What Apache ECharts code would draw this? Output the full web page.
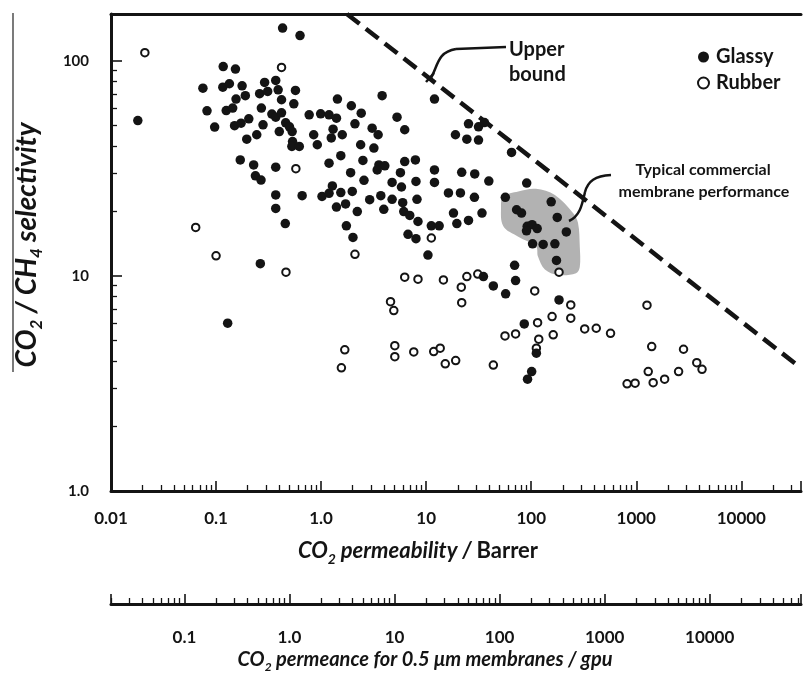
<!DOCTYPE html>
<html>
<head>
<meta charset="utf-8">
<script src="https://cdn.jsdelivr.net/npm/echarts@6/dist/echarts.min.js"></script>
<style>html,body{margin:0;padding:0;background:#fff}#c{width:804px;height:673px}</style>
</head>
<body>
<div id="c"></div>
<script>
// ---- data ----
const glassyX = [0.018,0.43,0.63,0.117,0.153,0.075,0.116,0.134,0.177,0.29,
  0.37,0.26,0.31,0.39,0.57,0.082,0.19,0.155,0.125,0.144,
  0.42,0.55,0.27,0.34,0.37,0.42,0.097,0.15,0.173,0.205,
  0.28,0.46,0.5,0.53,0.4,0.196,0.244,0.535,0.527,0.62,
  0.77,0.99,1.19,1.4,1.43,1.94,2.41,3.81,5.28,6.25,
  0.85,1.3,1.25,2.1,3.06,3.49,0.92,1.59,2.38,3.18,
  0.17,0.228,0.237,0.268,0.37,1.19,1.54,2.5,3.55,4.04,
  6.25,7.9,12,1.91,2.56,3.42,4.74,5.69,5.82,8.0,
  12,12,0.37,0.37,0.66,1.02,1.19,1.28,1.54,1.98,
  1.4,1.71,2.21,2.9,3.7,3.95,4.74,5.98,6.12,6.98,
  8.36,8.18,0.456,1.74,2.01,6.72,8.0,11.2,13.3,10.4,
  0.264,0.129,25.3,31.5,35.9,19.0,24.4,31.5,65,21.8,
  29,39.5,90.6,16.3,21.2,28.8,56.7,155,72.6,80.9,
  177,216,91.6,102,114,90.2,103,130,168,174,
  18.2,25.3,19.6,34,69.5,71,43.6,57.1,35.1,184,
  85.9,112,101,92.3];
const glassyY = [52.7,142,131,94,91.5,74.6,75.4,78.2,76.5,79.3,
  81,70.3,72,73.3,72.8,58.5,68.8,66.4,58.7,60.3,
  65.9,63.1,60.3,56.5,54.7,57.3,49.2,49.9,51.3,53.7,
  50.4,51.5,49.3,46.9,46.9,43.2,45.3,42.1,40,40,
  56.1,56.7,56.1,54.1,66.4,61.8,57.1,68.8,54.7,47.8,
  45.3,48.1,43.8,50.9,48.6,45.3,40.7,45.3,40.7,39.3,
  34.6,32.8,29.2,27.9,32,33.4,36.2,34.4,32.8,32.5,
  34,34.6,66.4,30.2,27.8,31.1,27.2,30.2,25.9,27.5,
  31.1,27.2,23.8,20.6,23.6,23.4,24.2,26.2,24.4,24.7,
  20.9,21.6,19.9,22.6,23.6,20.4,22.7,21.9,19.9,19.1,
  17.9,22.7,17.5,17.1,15.1,15.6,14.9,17.1,17.1,12.5,
  11.4,6.03,50.9,49.3,51.6,45.3,43.2,42.8,37.5,30.3,
  29.8,27.6,27,24.3,24.3,23.2,23.2,22.1,20.3,19.6,
  18.7,16,17,17.3,16.6,16.2,14.1,14,14.1,11.8,
  19.6,18.1,17.5,19.6,11.2,9.51,8.98,8.25,9.93,7.73,
  5.98,4.37,3.59,3.31];
const rubberX = [0.021,0.42,0.575,0.064,0.1,0.463,11.2,2.1,6.25,8.36,
  14.6,24.4,31,21.6,21.8,4.58,4.92,1.68,1.56,5.03,
  5.03,7.62,11.8,13.6,15.2,19.1,43.6,108,238,158,
  238,115,56.3,71,162,118,112,323,416,569,
  1265,1403,2818,3767,4227,1300,2529,1862,1449,818,
  975,184];
const rubberY = [109,93.1,31.5,16.8,12.4,10.4,15,12.6,9.86,9.65,
  9.58,9.93,10.2,8.86,7.51,7.59,6.9,4.53,3.74,4.74,
  4.21,4.43,4.45,4.61,3.9,4.04,3.85,8.51,7.33,6.47,
  6.36,6.06,5.26,5.37,5.32,5.08,4.61,5.67,5.71,5.41,
  7.31,4.69,4.56,3.95,3.68,3.59,3.59,3.31,3.19,3.15,
  3.17,10.4];
const upperBoundX = [1.76, 37000];
const upperBoundY = [165, 3.73];
const commercialX = [54.3,75.3,111,168,250,279,290,290,267,180,135,116,111,75.3,54.3,51.6];
const commercialY = [23.4,24.7,25.4,23.8,19.6,17.6,13.7,11.0,10.3,10.1,10.7,12.3,13.7,15.2,17.0,21.0];

const permeabilityTicks = [0.01, 0.1, 1, 10, 100, 1000, 10000];
const permeabilityLabels = ['0.01', '0.1', '1.0', '10', '100', '1000', '10000'];
const permeanceTicks = [0.1, 1, 10, 100, 1000, 10000];
const permeanceLabels = ['0.1', '1.0', '10', '100', '1000', '10000'];
const selectivityTicks = [1, 10, 100];
const selectivityLabels = ['1.0', '10', '100'];

// ---- helpers ----
function labelFor(ticks, labels) {
  return function (v) {
    for (let i = 0; i < ticks.length; i++) {
      if (Math.abs(Math.log10(v) - Math.log10(ticks[i])) < 1e-6) return labels[i];
    }
    return '';
  };
}
const zip = (xs, ys) => xs.map((x, i) => [x, ys[i]]);
const INK = '#141414';
const FONT = 'Lato, "Open Sans", sans-serif';

const xLabelStyle = { color: INK, fontSize: 17, fontWeight: 'bold', fontFamily: FONT };
const yLabelStyle = { color: INK, fontSize: 15, fontWeight: 'bold', fontFamily: FONT };

const chart = echarts.init(document.getElementById('c'), null, { renderer: 'canvas' });
const commercialData = zip(commercialX, commercialY);

const subRich = (size, lh, sub, slh) => ({
  m: { fontSize: size, fontStyle: 'italic', fontWeight: 'bold', fontFamily: FONT, lineHeight: lh, fill: INK },
  s: { fontSize: sub, fontStyle: 'italic', fontWeight: 'bold', fontFamily: FONT, lineHeight: slh, verticalAlign: 'bottom', fill: INK },
  n: { fontSize: size, fontWeight: 'bold', fontFamily: FONT, lineHeight: lh, fill: INK }
});

chart.setOption({
  animation: false,
  backgroundColor: '#fff',
  grid: [
    { left: 111, right: 0, top: 14, bottom: 182 },
    { left: 111, right: 0, top: 597, height: 7 }
  ],
  legend: {
    data: ['Glassy', 'Rubber'],
    orient: 'vertical',
    left: 692, top: 42,
    itemWidth: 11, itemHeight: 11, itemGap: 6,
    textStyle: { color: INK, fontSize: 20, fontWeight: 'bold', fontFamily: FONT, padding: [0, 0, 0, 2] }
  },
  xAxis: [
    {
      type: 'log', logBase: 10, min: 0.01, max: 37000, gridIndex: 0, position: 'bottom',
      axisLine: { show: true, onZero: false, lineStyle: { color: INK, width: 3 } },
      axisTick: { show: true, inside: true, length: 10, lineStyle: { color: INK, width: 1.6 } },
      minorTick: { show: true, splitNumber: 9, length: 6, lineStyle: { color: INK, width: 1.3 } },
      axisLabel: Object.assign({ margin: 19, formatter: labelFor(permeabilityTicks, permeabilityLabels) }, xLabelStyle),
      splitLine: { show: false }, minorSplitLine: { show: false }
    },
    {
      type: 'log', logBase: 10, min: 0.01, max: 37000, gridIndex: 0, position: 'top',
      axisLine: { show: true, onZero: false, lineStyle: { color: INK, width: 3 } },
      axisTick: { show: false }, axisLabel: { show: false }, splitLine: { show: false }
    },
    {
      type: 'log', logBase: 10, min: 0.02, max: 74000, gridIndex: 1, position: 'bottom',
      axisLine: { show: true, onZero: false, lineStyle: { color: INK, width: 3 } },
      axisTick: { show: true, inside: true, length: 10, lineStyle: { color: INK, width: 1.6 } },
      minorTick: { show: true, splitNumber: 9, length: 6, lineStyle: { color: INK, width: 1.3 } },
      axisLabel: Object.assign({ margin: 25, formatter: labelFor(permeanceTicks, permeanceLabels) }, xLabelStyle),
      splitLine: { show: false }
    }
  ],
  yAxis: [
    {
      type: 'log', logBase: 10, min: 1, max: 165, gridIndex: 0,
      axisLine: { show: true, onZero: false, lineStyle: { color: INK, width: 3 } },
      axisTick: { show: true, inside: true, length: 11, lineStyle: { color: INK, width: 1.6 } },
      minorTick: { show: true, splitNumber: 9, length: 6, lineStyle: { color: INK, width: 1.3 } },
      axisLabel: Object.assign({ margin: 22, formatter: labelFor(selectivityTicks, selectivityLabels) }, yLabelStyle),
      splitLine: { show: false }
    },
    { type: 'value', gridIndex: 1, show: false, min: 0, max: 1 }
  ],
  series: [
    {
      name: 'commercial', type: 'custom', xAxisIndex: 0, yAxisIndex: 0,
      data: commercialData, silent: true, z: 1,
      renderItem: function (params, api) {
        if (params.dataIndex !== 0) return null;
        const pts = commercialData.map(p => api.coord(p));
        return { type: 'polygon', shape: { points: pts, smooth: 0.35 }, style: { fill: '#b2b2b2' } };
      }
    },
    {
      name: 'Upper bound', type: 'line', xAxisIndex: 0, yAxisIndex: 0,
      data: zip(upperBoundX, upperBoundY), showSymbol: false, symbol: 'none', silent: true, z: 2,
      lineStyle: { color: INK, width: 4.5, type: [16, 8] }
    },
    {
      name: 'Rubber', type: 'scatter', xAxisIndex: 0, yAxisIndex: 0,
      data: zip(rubberX, rubberY), symbol: 'circle', symbolSize: 7.5, z: 3,
      itemStyle: { color: '#fff', borderColor: INK, borderWidth: 2, opacity: 1 }
    },
    {
      name: 'Glassy', type: 'scatter', xAxisIndex: 0, yAxisIndex: 0,
      data: zip(glassyX, glassyY), symbol: 'circle', symbolSize: 9.5, z: 4,
      itemStyle: { color: INK, opacity: 1 }
    }
  ],
  graphic: [
    { type: 'line', z: 10, shape: { x1: 13, y1: 13, x2: 13, y2: 372 }, style: { stroke: '#333', lineWidth: 1.3 } },
    { type: 'text', x: 27, y: 245, rotation: Math.PI / 2, z: 10,
      style: { text: '{m|CO}{s|2}{m| / CH}{s|4}{m| selectivity}', align: 'center', verticalAlign: 'middle', fill: INK,
        rich: subRich(28, 36, 17, 15) } },
    { type: 'text', x: 418, y: 551, z: 10,
      style: { text: '{m|CO}{s|2}{m| permeability / }{n|Barrer}', align: 'center', verticalAlign: 'middle', fill: INK,
        rich: subRich(22, 30, 14, 12) } },
    { type: 'text', x: 425, y: 660, z: 10,
      style: { text: '{m|CO}{s|2}{m| permeance for 0.5 μm membranes / gpu}', align: 'center', verticalAlign: 'middle', fill: INK,
        rich: subRich(20, 26, 12, 10) } },
    { type: 'text', x: 509, y: 50, z: 10, style: { text: 'Upper', fontSize: 20, fontWeight: 'bold', fontFamily: FONT, fill: INK, verticalAlign: 'middle' } },
    { type: 'text', x: 509, y: 75, z: 10, style: { text: 'bound', fontSize: 20, fontWeight: 'bold', fontFamily: FONT, fill: INK, verticalAlign: 'middle' } },
    { type: 'line', z: 10, shape: { x1: 426, y1: 82, x2: 434, y2: 73 }, style: { stroke: INK, lineWidth: 2.5 } },
    { type: 'bezierCurve', z: 10, shape: { x1: 431, y1: 78, cpx1: 438, cpy1: 66, cpx2: 437, cpy2: 52, x2: 456, y2: 49 },
      style: { stroke: INK, lineWidth: 2.5, fill: null } },
    { type: 'line', z: 10, shape: { x1: 456, y1: 49, x2: 506, y2: 47 }, style: { stroke: INK, lineWidth: 2.5 } },
    { type: 'text', x: 703, y: 170, z: 10, style: { text: 'Typical commercial', fontSize: 16, fontWeight: 'bold', fontFamily: FONT, fill: INK, align: 'center', verticalAlign: 'middle' } },
    { type: 'text', x: 704, y: 192, z: 10, style: { text: 'membrane performance', fontSize: 16, fontWeight: 'bold', fontFamily: FONT, fill: INK, align: 'center', verticalAlign: 'middle' } },
    { type: 'bezierCurve', z: 10, shape: { x1: 569, y1: 221, cpx1: 580, cpy1: 216, cpx2: 582, cpy2: 205, x2: 585, y2: 192 },
      style: { stroke: INK, lineWidth: 2.5, fill: null } },
    { type: 'bezierCurve', z: 10, shape: { x1: 585, y1: 192, cpx1: 588, cpy1: 181, cpx2: 595, cpy2: 176, x2: 611, y2: 175 },
      style: { stroke: INK, lineWidth: 2.5, fill: null } }
  ]
});
</script>
</body>
</html>
